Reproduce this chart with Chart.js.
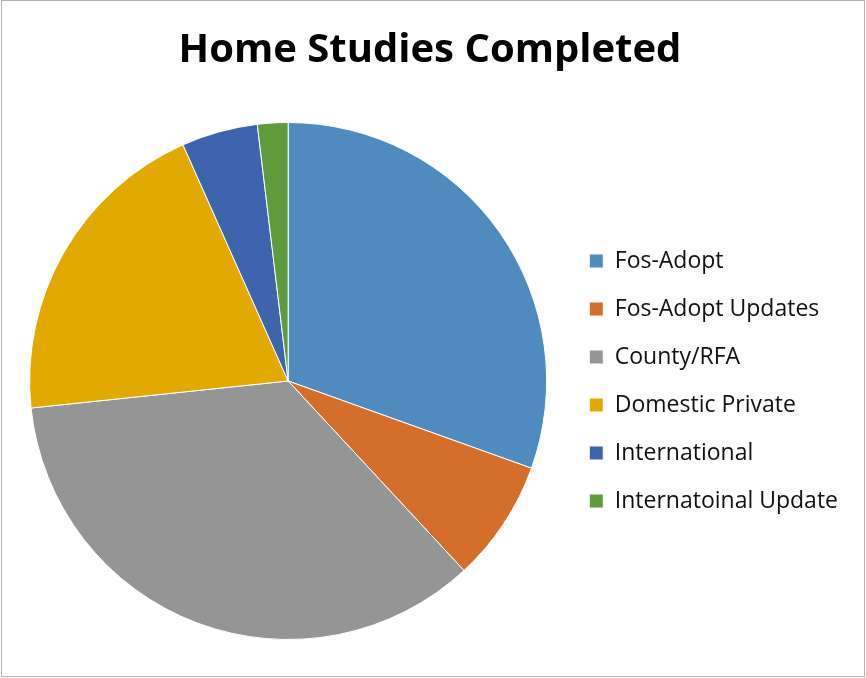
<!DOCTYPE html>
<html>
<head>
<meta charset="utf-8">
<title>Home Studies Completed</title>
<script src="https://cdn.jsdelivr.net/npm/chart.js@4.4.1/dist/chart.umd.min.js"></script>
<style>
    html, body { margin: 0; padding: 0; background: #fff; }
    #wrap { position: relative; width: 866px; height: 678px; }
</style>
</head>
<body>
<div id="wrap"><canvas id="pieChart"></canvas></div>
<script>
const categories = ["Fos-Adopt", "Fos-Adopt Updates", "County/RFA", "Domestic Private", "International", "Internatoinal Update"];
const studies = [32, 8, 37, 21, 5, 2];
const sliceColors = ["#4f8bbe", "#d46f2b", "#959595", "#e2aa00", "#3e64ae", "#5f9a3c"];

// white page with the thin grey frame round it
const frame = {
    id: "frame",
    beforeDraw(chart) {
        const { ctx, width, height } = chart;
        ctx.save();
        ctx.fillStyle = "#fff";
        ctx.fillRect(0, 0, width, height);
        ctx.strokeStyle = "#b3b3b3";
        ctx.lineWidth = 1;
        ctx.strokeRect(1.5, 0.5, width - 3, height - 2);
        ctx.restore();
    }
};

const ctx = document.getElementById("pieChart").getContext("2d");
new Chart(ctx, {
    type: "pie",
    data: {
        labels: categories,
        datasets: [{
            label: "Home Studies",
            data: studies,
            backgroundColor: sliceColors,
            borderColor: "#fff",
            borderWidth: 1
        }]
    },
    options: {
        responsive: true,
        maintainAspectRatio: false,
        animation: false,
        layout: {
            padding: { left: 12, right: 18, top: 0, bottom: 38 }
        },
        plugins: {
            title: {
                display: true,
                text: "Home Studies Completed",
                color: "#000",
                font: { family: "'Open Sans', sans-serif", size: 40, weight: "bold", lineHeight: 1.2 },
                padding: { top: 27, bottom: 47 }
            },
            legend: {
                position: "right",
                fullSize: false,
                labels: {
                    color: "#111",
                    font: { family: "'Open Sans', sans-serif", size: 23 },
                    boxWidth: 14,
                    boxHeight: 14,
                    padding: 25
                }
            },
            tooltip: { enabled: false }
        }
    },
    plugins: [frame]
});
</script>
</body>
</html>
